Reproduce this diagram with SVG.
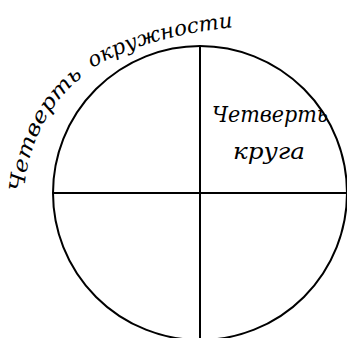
<svg xmlns="http://www.w3.org/2000/svg" width="347" height="338" viewBox="0 0 347 338">
<style>
.ln{fill:none;stroke:#000;stroke-width:2}
.hw{font-family:"DejaVu Serif","Liberation Serif",serif;font-style:italic;fill:#000}
</style>
<defs>
<path id="arc1" d="M 24,192 C 27,150 45,105 86,74"/>
<path id="arc2" d="M 92,68 C 130,46 180,32 238,27"/>
</defs>
<rect width="347" height="338" fill="#fff"/>
<g id="circle">
<circle class="ln" cx="200" cy="193" r="147"/>
</g>
<g id="connectors">
<line class="ln" x1="200" y1="46" x2="200" y2="338"/>
<line class="ln" x1="53" y1="193" x2="346" y2="193"/>
</g>
<g id="label-arc">
<text class="hw" font-size="21"><textPath href="#arc1" textLength="134" lengthAdjust="spacingAndGlyphs">Четверть</textPath></text>
<text class="hw" font-size="21"><textPath href="#arc2" textLength="148" lengthAdjust="spacingAndGlyphs">окружности</textPath></text>
</g>
<g id="label-quarter">
<text class="hw" font-size="22" x="212" y="122" textLength="116" lengthAdjust="spacingAndGlyphs">Четверть</text>
<text class="hw" font-size="22" x="233" y="159" textLength="72" lengthAdjust="spacingAndGlyphs">круга</text>
</g>
</svg>
